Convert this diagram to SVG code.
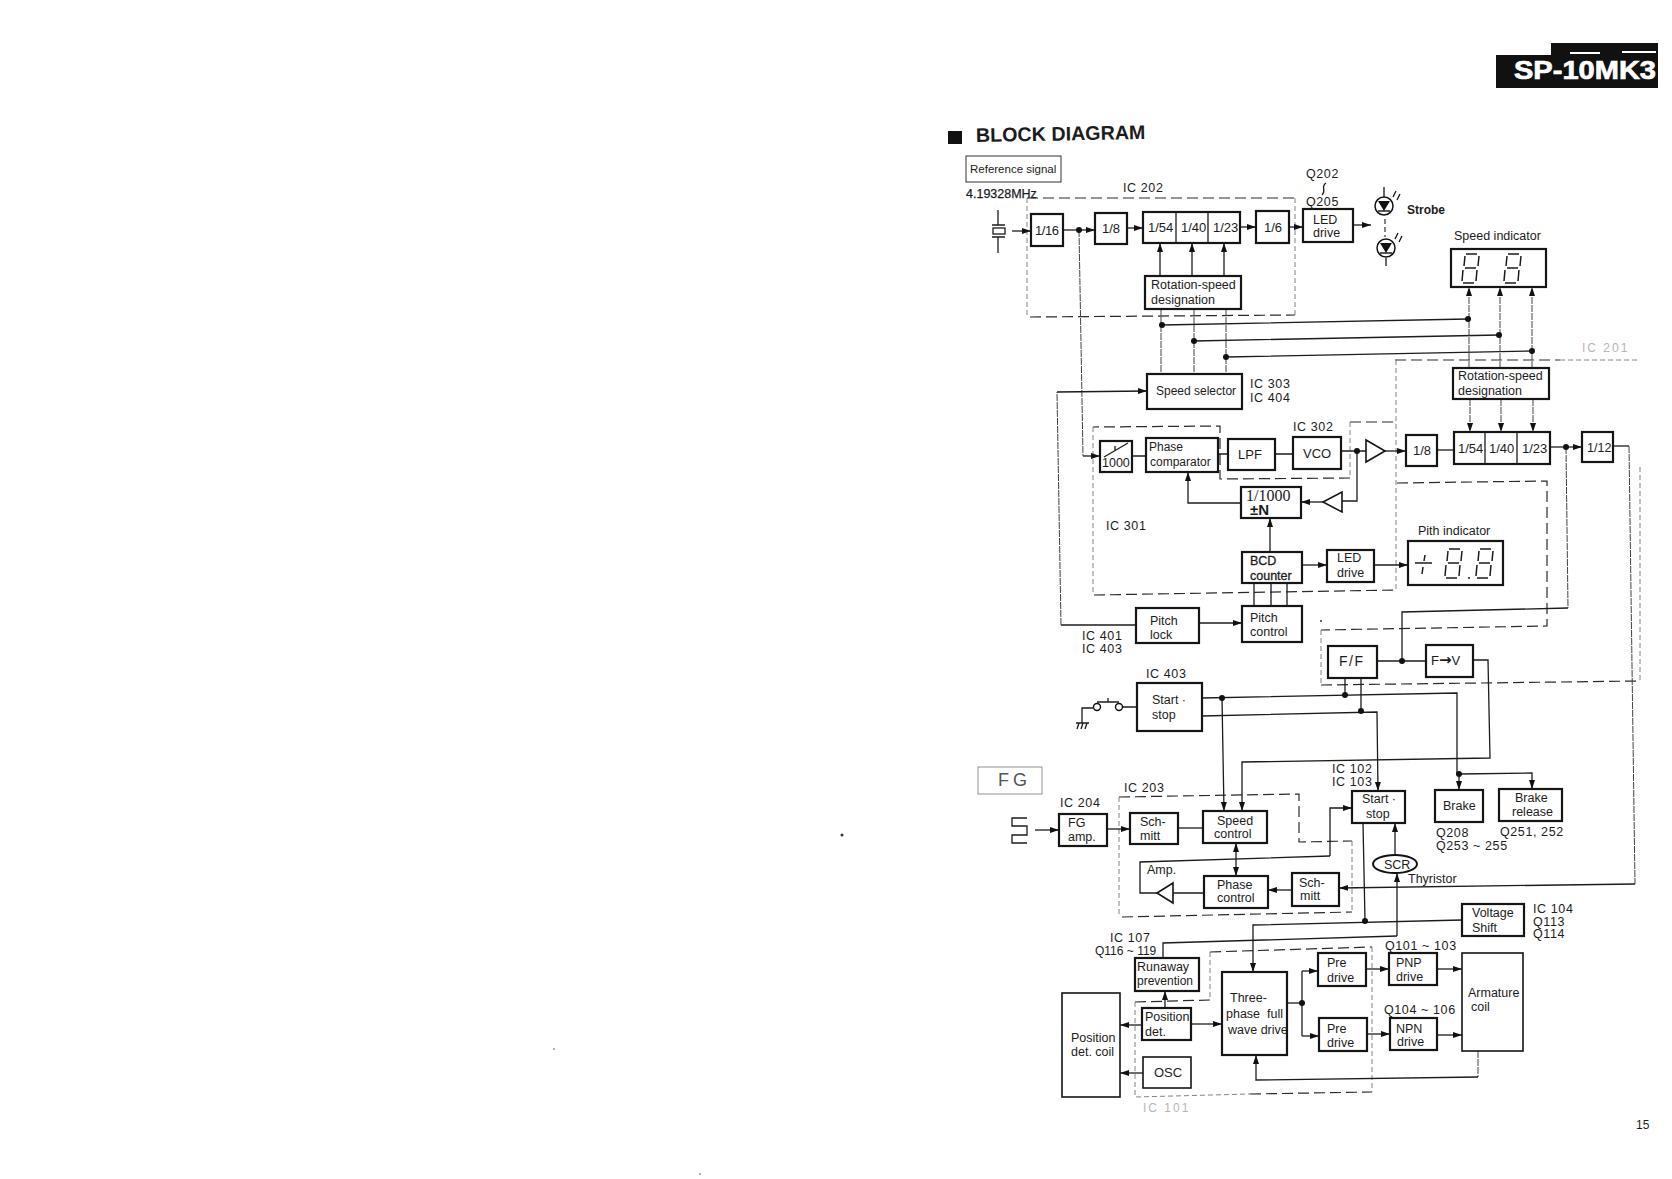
<svg xmlns="http://www.w3.org/2000/svg" width="1672" height="1179" viewBox="0 0 1672 1179">
<style>
text{font-family:"Liberation Sans",Arial,sans-serif;font-size:12.5px;fill:#1c1c1c}
.b{fill:#fff;stroke:#151515;stroke-width:2.2}
.t{fill:#fff;stroke:#151515;stroke-width:1.6}
.w{fill:none;stroke:#1c1c1c;stroke-width:1.3}
.wa{fill:none;stroke:#1c1c1c;stroke-width:1.3;marker-end:url(#ah)}
.wl{fill:none;stroke:#444;stroke-width:1;stroke-dasharray:7 1}
.wla{fill:none;stroke:#444;stroke-width:1;stroke-dasharray:7 1;marker-end:url(#ah)}
.d{fill:none;stroke:#2a2a2a;stroke-width:1.2;stroke-dasharray:11 5}
.dt{fill:none;stroke:#777;stroke-width:.9;stroke-dasharray:5 3}
.j{fill:#111}
.ic{font-size:12.5px;letter-spacing:.6px}
.m{font-size:13px}
.f{fill:#b5b5b5;font-size:12px;letter-spacing:2px}
.seg{fill:none;stroke:#1c1c1c;stroke-width:1.5}
</style>
<defs>
<marker id="ah" markerUnits="userSpaceOnUse" markerWidth="10" markerHeight="7" refX="9" refY="3" orient="auto"><path d="M0 0L9 3L0 6z" fill="#111"/></marker>
<marker id="ahs" markerUnits="userSpaceOnUse" markerWidth="10" markerHeight="7" refX="0" refY="3" orient="auto"><path d="M9 0L0 3L9 6z" fill="#111"/></marker>
<path id="dg" class="seg" d="M6 1H17M5 3L4 13M19 3L18 13M5 15H16M3 17L2 28M17 17L16 28M3 30H14"/>
<g id="led"><circle r="9" fill="#fff" stroke="#111" stroke-width="1.5"/><path d="M-6 -5H6L0 5z" fill="#111"/><path d="M-6 5H6" stroke="#111" stroke-width="1.4"/><path d="M9 -9L12 -15M13 -6L16 -12" stroke="#111" stroke-width="1.3"/></g>
</defs>
<rect width="1672" height="1179" fill="#fff"/>

<g id="badge"><path d="M1551 43H1658V88H1496V55H1551z" fill="#111"/><path d="M1570 53H1600M1622 52H1656" stroke="#fff" stroke-width="2"/><text x="1514" y="79" textLength="142" lengthAdjust="spacingAndGlyphs" style="font-size:25px;font-weight:bold;fill:#fff;stroke:#fff;stroke-width:.7">SP-10MK3</text></g>
<g id="title"><rect x="948" y="131" width="14" height="13" fill="#111"/><text x="976" y="142" transform="rotate(-1 976 142)" style="font-size:19.7px;font-weight:bold">BLOCK DIAGRAM</text></g>
<g id="page"><text x="1636" y="1129" style="font-size:12px">15</text></g>

<g id="boundaries">
<path class="d" d="M1027 198H1295M1030 317L1295 315"/>
<path class="dt" d="M1027 198V315M1295 198V315"/>
<path class="d" d="M1395 360H1560M1397 483L1547 481V626L1321 630M1321 685L1640 681"/>
<path class="dt" d="M1560 360H1637M1640 467V681M1321 630V685"/>
<path class="d" d="M1350 478L1220 479V426L1093 427M1350 422H1396M1094 595L1396 590"/>
<path class="dt" d="M1350 422V478M1093 427V595M1396 360V590"/>
<path class="d" d="M1119 797L1299 794V842L1352 841M1122 917L1352 912"/>
<path class="dt" d="M1119 797V917M1352 841V912"/>
<path class="d" d="M1210 952L1372 947M1135 1002L1210 1000M1250 1094L1372 1092"/>
<path class="dt" d="M1210 952V1000M1372 947V1092M1135 1002V1097L1250 1094"/>
</g>

<g id="connectors">
<path class="w" d="M998 210V225M992 225H1005M992 237H1005M998 237V253"/>
<rect x="993" y="228" width="12" height="6" fill="#fff" stroke="#1c1c1c" stroke-width="1.3"/>
<path class="wa" d="M1012 231H1031"/>
<path class="wa" d="M1063 230H1095"/>
<path class="wl" d="M1079 230L1083 456"/>
<path class="wa" d="M1083 456H1100"/>
<path class="wa" d="M1127 228H1143"/>
<path class="wa" d="M1240 227H1256"/>
<path class="wa" d="M1289 227H1303"/>
<path class="wa" d="M1353 225H1371"/>
<path class="wa" d="M1160 276V243"/><path class="wa" d="M1192 276V243"/><path class="wa" d="M1224 276V243"/>
<path class="wl" d="M1161 309V374M1194 309V374M1226 309V374"/>
<path class="w" d="M1162 325L1468 319M1194 341L1499 335M1226 357L1532 351"/>
<path class="wla" d="M1469 368V287"/><path class="wla" d="M1500 368V287"/><path class="wla" d="M1532 368V287"/>
<path class="wla" d="M1470 399V432"/><path class="wla" d="M1501 399V432"/><path class="wla" d="M1533 399V432"/>
<path class="w" d="M1136 625H1061"/><path class="wl" d="M1061 625L1057 392"/><path class="wa" d="M1057 392L1147 391"/>
<path class="w" d="M1132 456H1146M1218 454H1228M1275 454H1293M1341 451H1366"/>
<path class="wa" d="M1385 451H1406"/>
<path class="w" d="M1437 450H1454"/>
<path class="w" d="M1357 451V501H1342"/>
<path class="wa" d="M1323 502H1301"/>
<path class="wa" d="M1241 503H1188V472"/>
<path class="wa" d="M1270 552V518"/>
<path class="wa" d="M1302 565H1327"/>
<path class="wa" d="M1374 565H1408"/>
<path class="w" d="M1254 583V606M1271 583V606M1287 583V606"/>
<path class="wa" d="M1199 623H1242"/>
<path class="wa" d="M1550 447H1582"/>
<path class="wl" d="M1566 447L1568 608"/>
<path class="w" d="M1568 608L1402 612V661"/>
<path class="w" d="M1377 661H1426"/>
<path class="w" d="M1613 446H1629"/><path class="wl" d="M1629 446L1635 884"/><path class="wa" d="M1635 884L1339 888"/>
<path class="wa" d="M1473 660H1488L1490 758L1242 762V811"/>
<path class="w" d="M1345 678V695M1361 678V711"/>
<path class="w" d="M1202 698L1457 693V774"/>
<path class="wa" d="M1459 774V790"/>
<path class="wa" d="M1459 774L1532 773V789"/>
<path class="wa" d="M1202 716L1377 712L1378 791"/>
<path class="wa" d="M1222 698L1224 811"/>
<path class="w" d="M1082 723V708H1093M1122 707H1137M1097 702H1119M1108 698V702M1076 723H1089M1077 729L1079 723M1081 729L1083 723M1085 729L1087 723"/>
<path class="w" d="M1027 818H1012V826H1027V835H1012V843H1027"/>
<path class="wa" d="M1035 830H1059"/>
<path class="wa" d="M1107 829H1130"/>
<path class="w" d="M1178 828H1203"/>
<path d="M1236 843V876" class="wa" style="marker-start:url(#ahs)"/>
<path class="w" d="M1204 893H1173M1157 893H1140V862L1330 856"/>
<path class="wa" d="M1330 856V808H1352"/>
<path class="wa" d="M1292 890H1268"/>
<path class="w" d="M1363 823L1365 921"/>
<path class="wa" d="M1462 920L1253 925V972"/>
<path class="w" d="M1163 958V943L1397 936"/>
<path class="wa" d="M1397 936V873"/>
<path class="wa" d="M1395 855V823"/>
<path class="wa" d="M1165 1008V991"/>
<path class="wa" d="M1191 1024H1222"/>
<path class="wa" d="M1142 1025H1120"/>
<path class="wa" d="M1143 1073H1120"/>
<path class="w" d="M1287 1003H1302"/>
<path class="wa" d="M1302 971H1318"/>
<path class="wa" d="M1302 1036H1319"/>
<path class="w" d="M1302 971V1036"/>
<path class="wa" d="M1366 969H1389"/>
<path class="wa" d="M1367 1034H1390"/>
<path class="wa" d="M1437 969H1462"/>
<path class="wa" d="M1437 1035H1462"/>
<path class="wl" d="M1478 1051V1077"/><path class="wa" d="M1478 1077L1256 1080V1055"/>
<path d="M1385 219V237" fill="none" stroke="#333" stroke-width="1.2" stroke-dasharray="5 3"/>
<g class="j">
<circle cx="1079" cy="230" r="3"/><circle cx="1162" cy="325" r="3"/><circle cx="1194" cy="341" r="3"/><circle cx="1226" cy="357" r="3"/>
<circle cx="1468" cy="319" r="3"/><circle cx="1499" cy="335" r="3"/><circle cx="1532" cy="351" r="3"/>
<circle cx="1357" cy="451" r="3"/><circle cx="1566" cy="447" r="3"/><circle cx="1402" cy="661" r="3"/>
<circle cx="1345" cy="695" r="3"/><circle cx="1361" cy="711" r="3"/><circle cx="1222" cy="698" r="3"/>
<circle cx="1459" cy="774" r="3"/><circle cx="1365" cy="921" r="3"/><circle cx="1302" cy="1003" r="3"/>
</g>
</g>

<g id="reference-signal"><rect x="966" y="156" width="95" height="26" fill="#fff" stroke="#333" stroke-width="1"/><text x="970" y="173" style="font-size:11.5px">Reference signal</text></g>
<g id="d16"><rect class="b" x="1031" y="214" width="32" height="32"/><text class="m" x="1035" y="235" textLength="24">1/16</text></g>
<g id="d8"><rect class="b" x="1095" y="213" width="32" height="31"/><text class="m" x="1102" y="233">1/8</text></g>
<g id="div-a"><rect class="b" x="1143" y="212" width="97" height="31"/><path class="w" d="M1176 212V243M1208 212V243"/><text class="m" x="1148" y="232">1/54</text><text class="m" x="1181" y="232">1/40</text><text class="m" x="1213" y="232">1/23</text></g>
<g id="d6"><rect class="b" x="1256" y="211" width="33" height="32"/><text class="m" x="1264" y="232">1/6</text></g>
<g id="led-drive-a"><rect class="b" x="1303" y="209" width="50" height="33"/><text x="1313" y="224">LED</text><text x="1313" y="237">drive</text></g>
<g id="rot-a"><rect class="b" x="1145" y="276" width="96" height="33"/><text x="1151" y="289">Rotation-speed</text><text x="1151" y="304">designation</text></g>
<g id="speed-selector"><rect class="b" x="1147" y="374" width="95" height="35"/><text x="1156" y="395" style="font-size:12px">Speed selector</text></g>
<g id="strobe"><use href="#led" x="1384" y="206"/><use href="#led" x="1386" y="248"/><path class="w" d="M1384 187V197M1386 258V266"/><text x="1407" y="214" style="font-weight:bold;font-size:12px">Strobe</text></g>
<g id="speed-indicator"><rect class="b" x="1451" y="249" width="95" height="38"/><use href="#dg" x="1460" y="253"/><use href="#dg" x="1502" y="253"/><text x="1454" y="240">Speed indicator</text></g>
<g id="rot-b"><rect class="b" x="1453" y="368" width="96" height="31"/><text x="1458" y="380">Rotation-speed</text><text x="1458" y="395">designation</text></g>
<g id="sw1000"><rect class="b" x="1100" y="441" width="32" height="31"/><path class="w" d="M1104 457L1128 443M1115 446V451"/><text x="1102" y="467" style="font-size:12.5px">1000</text></g>
<g id="phase-comparator"><rect class="b" x="1146" y="438" width="72" height="34"/><text x="1149" y="451" style="font-size:12px">Phase</text><text x="1150" y="466" style="font-size:12px">comparator</text></g>
<g id="lpf"><rect class="b" x="1228" y="439" width="47" height="31"/><text class="m" x="1238" y="459">LPF</text></g>
<g id="vco"><rect class="b" x="1293" y="437" width="48" height="32"/><text class="m" x="1303" y="458">VCO</text></g>
<g id="amp-a"><path class="t" d="M1366 440V462L1385 451z"/></g>
<g id="amp-b"><path class="t" d="M1323 502L1342 492V512z"/></g>
<g id="d1000"><rect class="b" x="1241" y="487" width="60" height="31"/><text x="1246" y="501" style="font-family:'Liberation Serif',serif;font-size:16px">1/1000</text><text x="1250" y="515" style="font-weight:bold;font-size:15px">±N</text></g>
<g id="bcd"><rect class="b" x="1242" y="552" width="60" height="31"/><text x="1250" y="565" style="font-size:12.5px;stroke:#1c1c1c;stroke-width:.3">BCD</text><text x="1250" y="580" style="font-size:12.5px;stroke:#1c1c1c;stroke-width:.3">counter</text></g>
<g id="led-drive-b"><rect class="b" x="1327" y="550" width="47" height="32"/><text x="1337" y="562">LED</text><text x="1337" y="577">drive</text></g>
<g id="pitch-indicator"><rect class="b" x="1408" y="541" width="95" height="44"/><path class="seg" d="M1415 563H1432M1425 555L1424 561M1423 567L1422 574"/><use href="#dg" x="1443" y="548"/><use href="#dg" x="1474" y="548"/><circle class="j" cx="1469" cy="578" r="1"/><text x="1418" y="535">Pith indicator</text></g>
<g id="pitch-lock"><rect class="b" x="1136" y="608" width="63" height="35"/><text x="1150" y="625">Pitch</text><text x="1150" y="639">lock</text></g>
<g id="pitch-control"><rect class="b" x="1242" y="606" width="60" height="36"/><text x="1250" y="622">Pitch</text><text x="1250" y="636">control</text></g>
<g id="ff"><rect class="b" x="1328" y="646" width="49" height="32"/><text class="m" x="1339" y="666" style="letter-spacing:1.5px;font-size:14px">F/F</text></g>
<g id="fv"><rect class="b" x="1426" y="645" width="47" height="32"/><text x="1431" y="665" style="font-size:13px">F<tspan style="font-family:'DejaVu Sans',sans-serif;font-size:15px;font-weight:bold">→</tspan>V</text></g>
<g id="d8b"><rect class="b" x="1406" y="435" width="31" height="31"/><text class="m" x="1413" y="455">1/8</text></g>
<g id="div-b"><rect class="b" x="1454" y="432" width="96" height="32"/><path class="w" d="M1485 432V464M1517 432V464"/><text class="m" x="1458" y="453">1/54</text><text class="m" x="1489" y="453">1/40</text><text class="m" x="1522" y="453">1/23</text></g>
<g id="d12"><rect class="b" x="1582" y="432" width="31" height="30"/><text x="1587" y="452" style="font-size:12.5px">1/12</text></g>
<g id="start-stop-a"><rect class="b" x="1137" y="683" width="65" height="48"/><text x="1152" y="704">Start ·</text><text x="1152" y="719">stop</text></g>
<g id="switch"><circle cx="1097" cy="707" r="3.5" fill="#fff" stroke="#111" stroke-width="1.4"/><circle cx="1119" cy="707" r="3.5" fill="#fff" stroke="#111" stroke-width="1.4"/></g>
<g id="fg-label"><rect x="978" y="767" width="64" height="27" fill="#fff" stroke="#777" stroke-width=".8"/><text x="998" y="786" style="font-size:18px;letter-spacing:4px;fill:#555">FG</text></g>
<g id="fg-amp"><rect class="b" x="1059" y="814" width="48" height="32"/><text x="1068" y="827">FG</text><text x="1068" y="841">amp.</text></g>
<g id="schmitt-a"><rect class="b" x="1130" y="813" width="48" height="31"/><text x="1140" y="826">Sch-</text><text x="1140" y="840">mitt</text></g>
<g id="speed-control"><rect class="b" x="1203" y="811" width="64" height="32"/><text x="1217" y="825">Speed</text><text x="1214" y="838">control</text></g>
<g id="phase-control"><rect class="b" x="1204" y="876" width="64" height="32"/><text x="1217" y="889">Phase</text><text x="1217" y="902">control</text></g>
<g id="schmitt-b"><rect class="b" x="1292" y="873" width="47" height="33"/><text x="1299" y="887">Sch-</text><text x="1300" y="900">mitt</text></g>
<g id="amp-c"><path class="t" d="M1157 893L1173 883V903z"/><text x="1147" y="874">Amp.</text></g>
<g id="start-stop-b"><rect class="b" x="1352" y="791" width="53" height="32"/><text x="1362" y="803">Start ·</text><text x="1366" y="818">stop</text></g>
<g id="brake"><rect class="b" x="1435" y="790" width="48" height="32"/><text x="1443" y="810">Brake</text></g>
<g id="brake-release"><rect class="b" x="1499" y="789" width="63" height="32"/><text x="1515" y="802">Brake</text><text x="1512" y="816">release</text></g>
<g id="scr"><ellipse cx="1395" cy="864" rx="22" ry="9" fill="#fff" stroke="#111" stroke-width="2"/><text x="1384" y="869">SCR</text><text x="1408" y="883">Thyristor</text></g>
<g id="voltage-shift"><rect class="b" x="1462" y="904" width="62" height="32"/><text x="1472" y="917">Voltage</text><text x="1472" y="932">Shift</text></g>
<g id="runaway"><rect class="b" x="1135" y="958" width="64" height="33"/><text x="1137" y="971">Runaway</text><text x="1137" y="985" style="font-size:12px">prevention</text></g>
<g id="position-det"><rect class="b" x="1142" y="1008" width="49" height="32"/><text x="1145" y="1021">Position</text><text x="1145" y="1036">det.</text></g>
<g id="coil"><rect class="t" x="1062" y="993" width="58" height="104"/><text x="1071" y="1042">Position</text><text x="1071" y="1056">det. coil</text></g>
<g id="osc"><rect class="t" x="1143" y="1057" width="48" height="31"/><text class="m" x="1154" y="1077">OSC</text></g>
<g id="three-phase"><rect class="b" x="1222" y="972" width="65" height="83"/><text x="1230" y="1002">Three-</text><text x="1226" y="1018" xml:space="preserve">phase  full</text><text x="1228" y="1034">wave drive</text></g>
<g id="pre-a"><rect class="b" x="1318" y="953" width="48" height="33"/><text x="1327" y="967">Pre</text><text x="1327" y="982">drive</text></g>
<g id="pre-b"><rect class="b" x="1319" y="1018" width="48" height="33"/><text x="1327" y="1033">Pre</text><text x="1327" y="1047">drive</text></g>
<g id="pnp"><rect class="b" x="1389" y="953" width="48" height="32"/><text x="1396" y="967">PNP</text><text x="1396" y="981">drive</text></g>
<g id="npn"><rect class="b" x="1390" y="1018" width="47" height="32"/><text x="1396" y="1033">NPN</text><text x="1397" y="1046">drive</text></g>
<g id="armature"><rect class="t" x="1462" y="953" width="61" height="98"/><text x="1468" y="997">Armature</text><text x="1471" y="1011">coil</text></g>

<g id="labels">
<text x="966" y="198" style="font-size:12.5px;stroke:#1c1c1c;stroke-width:.25">4.19328MHz</text>
<text class="ic" x="1123" y="192">IC 202</text>
<text class="ic" x="1306" y="178">Q202</text><path class="w" d="M1326 183C1320 187 1327 190 1322 195"/><text class="ic" x="1306" y="206">Q205</text>
<text class="ic" x="1250" y="388">IC 303</text><text class="ic" x="1250" y="402">IC 404</text>
<text class="f" x="1582" y="352">IC 201</text>
<text class="ic" x="1293" y="431">IC 302</text>
<text class="ic" x="1106" y="530">IC 301</text>
<text class="ic" x="1082" y="640">IC 401</text><text class="ic" x="1082" y="653">IC 403</text>
<text class="ic" x="1146" y="678">IC 403</text>
<text class="ic" x="1060" y="807">IC 204</text>
<text class="ic" x="1124" y="792">IC 203</text>
<text class="ic" x="1332" y="773">IC 102</text><text class="ic" x="1332" y="786">IC 103</text>
<text class="ic" x="1436" y="837">Q208</text><text class="ic" x="1436" y="850">Q253 ~ 255</text>
<text class="ic" x="1500" y="836">Q251, 252</text>
<text class="ic" x="1533" y="913">IC 104</text><text class="ic" x="1533" y="926">Q113</text><text class="ic" x="1533" y="938">Q114</text>
<text class="ic" x="1385" y="950">Q101 ~ 103</text>
<text class="ic" x="1384" y="1014">Q104 ~ 106</text>
<text class="ic" x="1110" y="942">IC 107</text><text class="ic" x="1095" y="955" style="letter-spacing:0;font-size:12px">Q116 ~ 119</text>
<text class="f" x="1143" y="1112">IC 101</text>
</g>
<g id="specks" fill="#333"><circle cx="842" cy="835" r="1.5"/><circle cx="1321" cy="621" r="1"/><circle cx="554" cy="1049" r=".7"/><circle cx="700" cy="1174" r=".7"/></g>
</svg>
